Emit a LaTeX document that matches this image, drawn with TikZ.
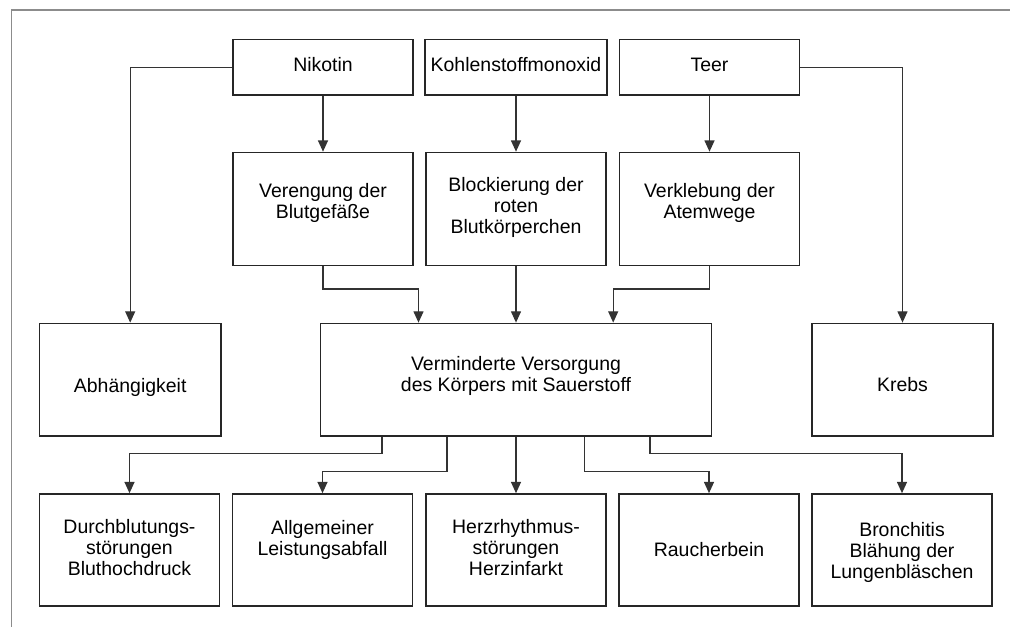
\documentclass[tikz,border=0pt]{standalone}
\usepackage{fontspec}
\setmainfont{Liberation Sans}
\usetikzlibrary{arrows.meta,calc}
\begin{document}
\begin{tikzpicture}[x=0.75pt,y=-0.75pt,
  box/.style={draw=black!85,line width=1.2pt,inner sep=0pt,fill=white},
  top/.style={box,minimum width=135pt,minimum height=41.6pt},
  mid/.style={box,minimum width=135pt,minimum height=84.75pt},
  bot/.style={box,minimum width=135pt,minimum height=84pt},
  txt/.style={align=center,inner sep=0pt,font=\fontsize{14.6pt}{15.75pt}\selectfont,text=black},
  conn/.style={draw=black!80,line width=1pt},
  arr/.style={conn,-{Triangle[length=8.5pt,width=7.5pt]}},
  frame/.style={draw=black!45,line width=1.1pt}
]
\useasboundingbox (0,0) rectangle (1010,627);
\draw[frame] (11.6,627) -- (11.6,10) -- (1010,10);

% row 1
\node[top] (nik) at (323,67.3) {};
\node[top,minimum width=136.5pt] (kohl) at (516,67.3) {};
\node[top] (teer) at (709.5,67.3) {};
% row 2
\node[mid] (veren) at (323,209) {};
\node[mid] (block) at (516,209) {};
\node[mid] (verkl) at (709.5,209) {};
% row 3
\node[box,minimum width=136pt,minimum height=84.4pt] (abh) at (130.2,379.7) {};
\node[box,minimum width=293.25pt,minimum height=84.4pt] (zent) at (516,379.7) {};
\node[box,minimum width=135.75pt,minimum height=84.4pt] (krebs) at (902.5,379.7) {};
% row 4
\node[bot] (b1) at (129.5,550) {};
\node[bot] (b2) at (322.5,550) {};
\node[bot] (b3) at (516,550) {};
\node[bot] (b4) at (709,550) {};
\node[bot] (b5) at (902,550) {};

% texts
\node[txt] (nikT) at (323,65) {Nikotin};
\node[txt] (kohlT) at (516,65) {Kohlenstoffmonoxid};
\node[txt] (teerT) at (709.5,65) {Teer};
\node[txt] (verenT) at (323,203) {Verengung der\\Blutgefäße};
\node[txt] (blockT) at (516,207) {Blockierung der\\roten\\Blutkörperchen};
\node[txt] (verklT) at (709.5,203) {Verklebung der\\Atemwege};
\node[txt] (abhT) at (130.2,387) {Abhängigkeit};
\node[txt] (zentT) at (516,376) {Verminderte Versorgung\\des Körpers mit Sauerstoff};
\node[txt] (krebsT) at (902.5,384.5) {Krebs};
\node[txt] (b1T) at (129.5,547.5) {Durchblutungs-\\störungen\\Bluthochdruck};
\node[txt] (b2T) at (322.5,540) {Allgemeiner\\Leistungsabfall};
\node[txt] (b3T) at (516,547.5) {Herzrhythmus-\\störungen\\Herzinfarkt};
\node[txt] (b4T) at (709,550) {Raucherbein};
\node[txt] (b5T) at (902,552) {Bronchitis\\Blähung der\\Lungenbläschen};

% connectors
\draw[arr] (nik.west) -| (abh.north);
\draw[arr] (nik.south) -- (veren.north);
\draw[arr] (kohl.south) -- (block.north);
\draw[arr] (teer.south) -- (verkl.north);
\draw[arr] (teer.east) -| (krebs.north);
\draw[arr] (veren.south) -- ++(0,22.8) -| ($(zent.north west)+(98.8,0)$);
\draw[arr] (block.south) -- (zent.north);
\draw[arr] (verkl.south) -- ++(0,22.8) -| ($(zent.north west)+(293.5,0)$);
\draw[arr] ($(zent.south west)+(62.2,0)$) -- ++(0,16.7) -| (b1.north);
\draw[arr] ($(zent.south west)+(127.3,0)$) -- ++(0,34.7) -| (b2.north);
\draw[arr] (zent.south) -- (b3.north);
\draw[arr] ($(zent.south west)+(264.5,0)$) -- ++(0,34.7) -| (b4.north);
\draw[arr] ($(zent.south west)+(330.3,0)$) -- ++(0,16.7) -| (b5.north);
\end{tikzpicture}
\end{document}
